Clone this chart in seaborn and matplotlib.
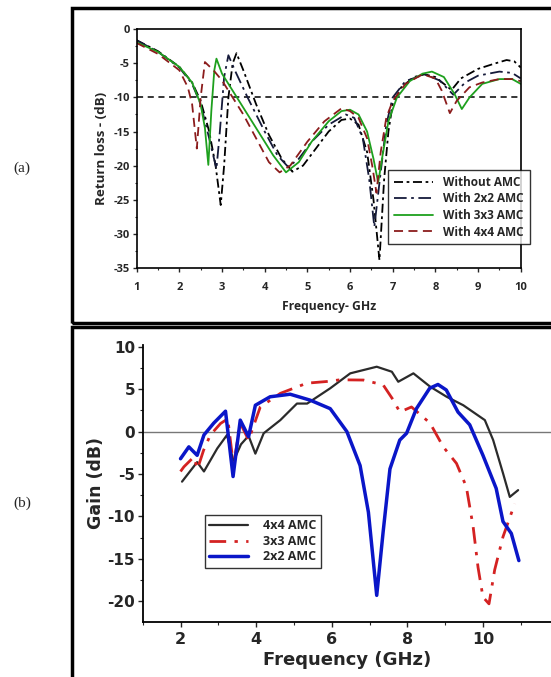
import numpy as np
import pandas as pd
import matplotlib.pyplot as plt
import seaborn as sns
from matplotlib.patches import Rectangle
from matplotlib.ticker import MultipleLocator

sns.set_theme(style='white')
plt.rcParams['font.family'] = ['Open Sans', 'DejaVu Sans']
plt.rcParams['font.weight'] = 'bold'
plt.rcParams['axes.unicode_minus'] = False

# (a) return loss
f_without = [1.0, 1.5, 2.0, 2.3, 2.5, 2.7, 2.85, 2.97, 3.05, 3.15, 3.25, 3.34, 3.5, 3.8, 4.1, 4.4, 4.65,
             4.9, 5.2, 5.5, 5.8, 6.0, 6.2, 6.4, 6.55, 6.69, 6.8, 6.9, 7.0, 7.2, 7.5, 7.75, 8.0, 8.2,
             8.38, 8.6, 9.0, 9.4, 9.67, 9.85, 10.0]
rl_without = [-1.6, -3.2, -5.5, -7.8, -10.5, -15, -20, -25.8, -20, -10, -5, -3.5, -6, -11, -15.5, -19, -20.9,
              -20, -17.5, -15, -13.3, -13.1, -14, -18, -25, -33.9, -22, -15, -11, -8.5, -7, -6.6, -7, -8,
              -8.9, -7.2, -5.8, -5, -4.5, -4.7, -5.6]

f_2x2 = [1.0, 1.5, 2.0, 2.3, 2.5, 2.7, 2.87, 2.95, 3.05, 3.15, 3.3, 3.6, 4.0, 4.3, 4.55, 4.8, 5.1, 5.5,
         5.9, 6.1, 6.3, 6.45, 6.57, 6.7, 6.85, 7.0, 7.3, 7.75, 8.1, 8.42, 8.7, 9.0, 9.5, 9.8, 10.0]
rl_2x2 = [-1.6, -3.3, -5.6, -8, -11, -16, -20.5, -15, -7, -3.8, -6, -10, -15, -18.5, -20.2, -19, -16.5, -14,
          -12.5, -13, -16, -22, -29, -22, -14, -10, -7.6, -6.6, -7.5, -9.6, -7.8, -6.8, -6.2, -6.4, -7.2]

f_3x3 = [1.0, 1.5, 2.0, 2.3, 2.5, 2.6, 2.68, 2.75, 2.82, 2.87, 3.0, 3.4, 3.8, 4.2, 4.5, 4.8, 5.1, 5.5,
         5.8, 6.0, 6.2, 6.4, 6.55, 6.66, 6.75, 6.9, 7.1, 7.4, 7.7, 7.92, 8.2, 8.45, 8.62, 8.8, 9.1,
         9.5, 9.8, 10.0]
rl_3x3 = [-1.9, -3.3, -5.5, -7.8, -11, -14.5, -19.9, -12, -6, -4.3, -6.5, -10.5, -14.5, -18.5, -21, -19.5,
          -16.5, -13.5, -12, -11.8, -12.5, -15, -19, -22.5, -19, -13.5, -10, -7.6, -6.5, -6.2, -7, -9.5,
          -11.7, -10, -8, -7.3, -7.3, -8.0]

f_4x4 = [1.0, 1.5, 2.0, 2.2, 2.3, 2.41, 2.5, 2.6, 2.8, 3.0, 3.2, 3.5, 3.8, 4.1, 4.35, 4.6, 5.0, 5.4,
         5.8, 6.0, 6.2, 6.4, 6.52, 6.62, 6.72, 6.85, 7.0, 7.3, 7.7, 8.0, 8.15, 8.34, 8.5, 8.8, 9.1,
         9.5, 9.8, 10.0]
rl_4x4 = [-2.0, -3.6, -6.0, -8.5, -11, -17.5, -10, -4.8, -6, -7.5, -9.5, -12.5, -16, -19.5, -21, -20,
          -16.5, -13.5, -11.6, -12, -13, -16, -20, -24, -18, -13, -10.5, -8, -6.6, -7.2, -9, -12.3,
          -10.5, -8.5, -7.8, -7.3, -7.3, -7.6]

# (b) gain
f_g4 = [2.04, 2.44, 2.62, 2.97, 3.23, 3.4, 3.6, 3.8, 3.98, 4.2, 4.64, 5.08, 5.35, 5.96, 6.49, 7.19,
        7.59, 7.76, 8.16, 8.6, 9.04, 9.48, 10.05, 10.27, 10.53, 10.71, 10.93]
g_4x4 = [-5.9, -3.6, -4.7, -2.0, -0.4, -3.5, -1.5, -0.5, -2.6, -0.2, 1.35, 3.3, 3.3, 5.1, 6.86, 7.64,
         7.05, 5.87, 6.86, 5.3, 4.1, 3.1, 1.35, -1.0, -4.9, -7.7, -6.9]

f_g3 = [2.0, 2.09, 2.35, 2.45, 2.61, 2.79, 3.06, 3.25, 3.4, 3.58, 3.8, 4.11, 4.64, 5.34, 5.87, 6.22,
        6.84, 7.36, 7.63, 7.8, 8.11, 8.6, 8.95, 9.3, 9.56, 9.74, 9.87, 10.0, 10.16, 10.31, 10.53, 10.84]
g_3x3 = [-4.7, -4.15, -3.0, -4.4, -2.2, -0.4, 0.96, 1.5, -4.0, 1.0, -1.0, 2.9, 4.5, 5.7, 5.9, 6.1,
         6.07, 5.5, 3.7, 2.3, 2.9, 1.0, -1.8, -3.75, -6.5, -11.2, -16, -19.5, -20.3, -16.3, -12.4, -8.5]

f_g2 = [2.0, 2.22, 2.44, 2.62, 2.88, 3.19, 3.39, 3.58, 3.8, 3.98, 4.37, 4.9, 5.43, 5.96, 6.4, 6.75,
        6.97, 7.19, 7.36, 7.54, 7.8, 7.98, 8.24, 8.59, 8.81, 9.03, 9.34, 9.65, 10.0, 10.35, 10.53,
        10.75, 10.95]
g_2x2 = [-3.2, -1.8, -2.8, -0.4, 1.0, 2.4, -5.3, 1.35, -0.6, 3.1, 4.1, 4.4, 3.7, 2.7, 0.0, -4.0,
         -9.5, -19.3, -11.8, -4.4, -1.0, -0.2, 2.7, 5.1, 5.55, 4.9, 2.3, 0.8, -2.8, -6.7, -10.6,
         -12.0, -15.2]

fig = plt.figure(figsize=(5.51, 6.77), dpi=100)

# frames round the two panels
fig.patches.append(Rectangle((72 / 551, 1 - 323 / 677), 0.9, 315 / 677, transform=fig.transFigure,
                             fill=False, edgecolor='black', linewidth=2.5, zorder=5))
fig.patches.append(Rectangle((72 / 551, -0.05), 0.9, 0.05 + 350 / 677, transform=fig.transFigure,
                             fill=False, edgecolor='black', linewidth=2.5, zorder=5))

fig.text(22 / 551, 1 - 168 / 677, '(a)', family='Liberation Serif', fontweight='normal', fontsize=11,
         ha='center', va='center')
fig.text(22 / 551, 1 - 503 / 677, '(b)', family='Liberation Serif', fontweight='normal', fontsize=11,
         ha='center', va='center')

# ---- (a)
ax1 = fig.add_axes([0.248, 0.6046, 0.697, 0.352])
top = [
    (f_without, rl_without, 'Without AMC', 'black', (5, 2, 1.5, 2)),
    (f_2x2, rl_2x2, 'With 2x2 AMC', '#151a3a', (7, 2.5, 1.5, 2.5)),
    (f_3x3, rl_3x3, 'With 3x3 AMC', '#1ea01e', None),
    (f_4x4, rl_4x4, 'With 4x4 AMC', '#8b1c1c', (5, 3)),
]
for fx, fy, name, col, dash in top:
    sns.lineplot(x=fx, y=fy, ax=ax1, color=col, linewidth=1.3, label=name, sort=False, estimator=None)
    if dash is not None:
        ax1.lines[-1].set_dashes(dash)
ax1.axhline(-10, color='black', linewidth=1.1, dashes=(4, 3), zorder=1)

ax1.set_xlim(1, 10)
ax1.set_ylim(-35, 0)
ax1.xaxis.set_major_locator(MultipleLocator(1))
ax1.xaxis.set_minor_locator(MultipleLocator(0.5))
ax1.yaxis.set_major_locator(MultipleLocator(5))
ax1.yaxis.set_minor_locator(MultipleLocator(2.5))
ax1.tick_params(which='major', direction='out', length=3, width=1, labelsize=8, pad=2,
                bottom=True, left=True)
ax1.tick_params(axis='x', pad=7)
ax1.tick_params(which='minor', direction='out', length=1.5, width=0.8, bottom=True, left=True)
for s in ax1.spines.values():
    s.set_color('black')
    s.set_linewidth(1.2)
ax1.set_xlabel('Frequency- GHz', fontsize=8.7, fontweight='bold', labelpad=5)
ax1.set_ylabel('Return loss - (dB)', fontsize=9.6, fontweight='bold', labelpad=4)
leg1 = ax1.legend(loc='upper left', bbox_to_anchor=(388 / 551, 1 - 170 / 677), bbox_transform=fig.transFigure,
                  prop={'size': 8.5, 'weight': 'bold'}, handlelength=3.3, frameon=True, fancybox=False,
                  borderpad=0.5, labelspacing=0.3, handletextpad=0.9, borderaxespad=0)
leg1.get_frame().set_edgecolor('black')
leg1.get_frame().set_linewidth(1.0)

# ---- (b)
ax2 = fig.add_axes([0.259, 0.0817, 0.741, 0.4087])
ax2.axhline(0, color='#777777', linewidth=1.0, zorder=1)
bottom = [
    (f_g4, g_4x4, '4x4 AMC', '#2b2b2b', 1.6, None),
    (f_g3, g_3x3, '3x3 AMC', '#d42222', 2.0, (6, 3, 1.2, 3)),
    (f_g2, g_2x2, '2x2 AMC', '#0a16c8', 2.5, None),
]
for fx, fy, name, col, lw, dash in bottom:
    sns.lineplot(x=fx, y=fy, ax=ax2, color=col, linewidth=lw, label=name, sort=False, estimator=None)
    if dash is not None:
        ax2.lines[-1].set_dashes(dash)

ax2.set_xlim(1.0, 11.8)
ax2.set_ylim(-22.4, 10.2)
ax2.xaxis.set_major_locator(MultipleLocator(2))
ax2.xaxis.set_minor_locator(MultipleLocator(1))
ax2.yaxis.set_major_locator(MultipleLocator(5))
ax2.yaxis.set_minor_locator(MultipleLocator(2.5))
ax2.spines['top'].set_visible(False)
ax2.spines['right'].set_visible(False)
for s in ['left', 'bottom']:
    ax2.spines[s].set_color('black')
    ax2.spines[s].set_linewidth(1.3)
ax2.tick_params(which='major', direction='out', length=3.5, width=1, pad=2, bottom=True, left=True)
ax2.tick_params(which='minor', direction='out', length=2, width=0.8, bottom=True, left=True)
ax2.tick_params(axis='x', labelsize=11.5, pad=4)
ax2.tick_params(axis='y', labelsize=11)
for lab in ax2.get_xticklabels() + ax2.get_yticklabels():
    lab.set_family('DejaVu Sans')
ax2.set_xlabel('Frequency (GHz)', fontsize=13, fontweight='bold', family='DejaVu Sans', labelpad=3)
ax2.set_ylabel('Gain (dB)', fontsize=12.5, fontweight='bold', family='DejaVu Sans', labelpad=2)
leg2 = ax2.legend(loc='upper left', bbox_to_anchor=(205 / 551, 1 - 515 / 677), bbox_transform=fig.transFigure,
                  prop={'size': 9, 'weight': 'bold'}, handlelength=3.1, frameon=True, fancybox=False,
                  borderpad=0.35, labelspacing=0.2, handletextpad=1.2, borderaxespad=0)
leg2.get_frame().set_edgecolor('black')
leg2.get_frame().set_linewidth(1.0)

fig.savefig('out.png', dpi=100)
